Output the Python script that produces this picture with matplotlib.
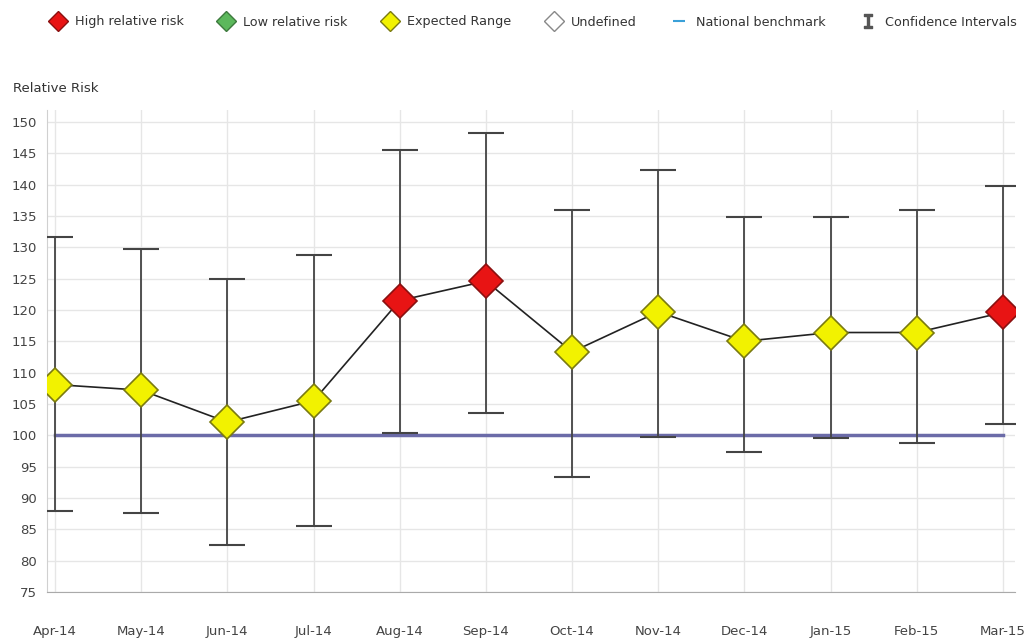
import matplotlib
matplotlib.use('Agg')
import matplotlib.pyplot as plt
from matplotlib.lines import Line2D

months = ['Apr-14', 'May-14', 'Jun-14', 'Jul-14', 'Aug-14', 'Sep-14',
          'Oct-14', 'Nov-14', 'Dec-14', 'Jan-15', 'Feb-15', 'Mar-15']
risk = [108.1, 107.2, 102.1, 105.5, 121.5, 124.6, 113.3, 119.7, 115.0, 116.4, 116.4, 119.6]
ci_upper = [131.6, 129.8, 124.9, 128.8, 145.5, 148.2, 135.9, 142.3, 134.9, 134.8, 136.0, 139.8]
ci_lower = [88.0, 87.6, 82.5, 85.5, 100.4, 103.6, 93.4, 99.7, 97.3, 99.6, 98.7, 101.8]
status = ['expected', 'expected', 'expected', 'expected', 'high', 'high',
          'expected', 'expected', 'expected', 'expected', 'expected', 'high']
benchmark = 100

face = {'high': '#e81414', 'low': '#5cb85c', 'expected': '#f2f200', 'undefined': 'white'}
edge = {'high': '#8a1010', 'low': '#3d7a3d', 'expected': '#7a7a10', 'undefined': '#888888'}

fig = plt.figure(figsize=(10.29, 6.44), dpi=100)
ax = fig.add_axes([47 / 1029, 52 / 644, 968 / 1029, 482 / 644])

x = list(range(len(months)))

# grid
ax.set_axisbelow(True)
ax.grid(True, color='#e6e6e6', lw=1)

# national benchmark
ax.plot([x[0], x[-1]], [benchmark, benchmark], color='#6b6ba8', lw=2.5, zorder=2)

# confidence intervals
yerr = [[r - lo for r, lo in zip(risk, ci_lower)], [hi - r for r, hi in zip(risk, ci_upper)]]
ax.errorbar(x, risk, yerr=yerr, fmt='none', ecolor='#444444', elinewidth=1.3,
            capsize=13, capthick=1.5, zorder=3)

# connecting line
ax.plot(x, risk, color='#222222', lw=1.2, zorder=4)

for xi, r, s in zip(x, risk, status):
    ax.plot(xi, r, marker='D', markersize=17, markerfacecolor=face[s],
            markeredgecolor=edge[s], markeredgewidth=1.2, zorder=5)

ax.set_xlim(-0.093, 11.14)
ax.set_ylim(75, 151.9)
ax.set_xticks(x)
ax.set_xticklabels(months)
ax.set_yticks(range(75, 151, 5))
ax.tick_params(axis='x', length=0, pad=24, labelsize=9.5, labelcolor='#444444')
ax.tick_params(axis='y', length=0, pad=7, labelsize=9.5, labelcolor='#444444')
for s in ['top', 'right']:
    ax.spines[s].set_visible(False)
ax.spines['bottom'].set_color('#aaaaaa')
ax.spines['left'].set_color('#d0d0d0')

fig.text(13 / 1029, 1 - 88 / 644, 'Relative Risk', fontsize=9.5, color='#333333', va='center')

handles = [
    Line2D([], [], ls='none', marker='D', markersize=10, markerfacecolor=face['high'], markeredgecolor=edge['high']),
    Line2D([], [], ls='none', marker='D', markersize=10, markerfacecolor=face['low'], markeredgecolor=edge['low']),
    Line2D([], [], ls='none', marker='D', markersize=10, markerfacecolor=face['expected'], markeredgecolor=edge['expected']),
    Line2D([], [], ls='none', marker='D', markersize=10, markerfacecolor=face['undefined'], markeredgecolor=edge['undefined']),
    Line2D([], [], ls='none', marker='_', markersize=8, markeredgewidth=1.5, color='#3aa0d8'),
    Line2D([], [], ls='none', marker='$\\mathtt{I}$', markersize=10, color='#555555'),
]
labels = ['High relative risk', 'Low relative risk', 'Expected Range', 'Undefined',
          'National benchmark', 'Confidence Intervals']
fig.legend(handles, labels, loc='center', bbox_to_anchor=(0.516, 1 - 22 / 644), ncol=6,
           frameon=False, fontsize=9.2, handletextpad=0.3, columnspacing=2.35,
           labelcolor='#333333')

plt.savefig('out.png', dpi=100)
